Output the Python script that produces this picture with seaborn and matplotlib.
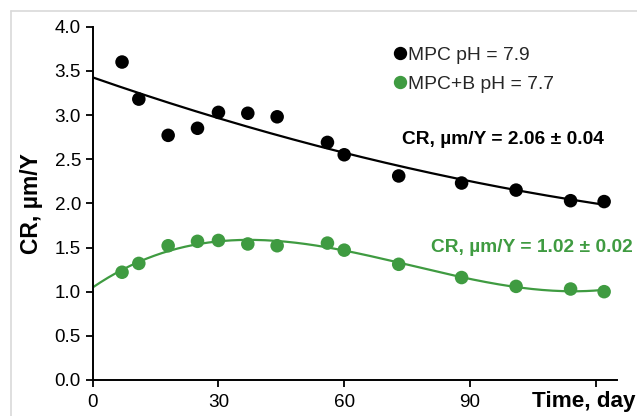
import numpy as np
import pandas as pd
import matplotlib
matplotlib.use("Agg")
import matplotlib.pyplot as plt
from matplotlib.lines import Line2D
import seaborn as sns

# ---- data ----
days = [7, 11, 18, 25, 30, 37, 44, 56, 60, 73, 88, 101, 114, 122]
cr_mpc = [3.60, 3.18, 2.77, 2.85, 3.03, 3.02, 2.98, 2.69, 2.55, 2.31, 2.23, 2.15, 2.03, 2.02]
cr_mpcb = [1.22, 1.32, 1.52, 1.57, 1.58, 1.54, 1.52, 1.55, 1.47, 1.31, 1.16, 1.06, 1.03, 1.00]
series_labels = ["MPC pH = 7.9", "MPC+B pH = 7.7"]
annot_texts = ["CR, \u00b5m/Y = 2.06 \u00b1 0.04", "CR, \u00b5m/Y = 1.02 \u00b1 0.02"]
x_ticks = [0, 30, 60, 90, 120]
x_ticklabels = ["0", "30", "60", "90", ""]
y_ticks = [0.0, 0.5, 1.0, 1.5, 2.0, 2.5, 3.0, 3.5, 4.0]

BLACK = "#000000"
GREEN = "#3f9b41"

sns.set_theme(style="white")
plt.rcParams["font.family"] = ["Liberation Sans", "DejaVu Sans"]

W, H = 637, 416
fig = plt.figure(figsize=(W / 100, H / 100), dpi=100)
ax_l, ax_r, ax_b, ax_t = 92.7, 616.7, 380.0, 26.7
ax = fig.add_axes([ax_l / W, 1 - ax_b / H, (ax_r - ax_l) / W, (ax_b - ax_t) / H])

df = pd.DataFrame({"day": days * 2,
                   "cr": cr_mpc + cr_mpcb,
                   "series": [series_labels[0]] * len(days) + [series_labels[1]] * len(days)})

# trend lines (polynomial fits of the data, extended back to day 0)
xfit = np.linspace(0, max(days), 200)
p_black = np.polyfit(days, cr_mpc, 2)
p_green = np.polyfit(days, cr_mpcb, 3)
fit_df = pd.DataFrame({"day": np.concatenate([xfit, xfit]),
                       "cr": np.concatenate([np.polyval(p_black, xfit), np.polyval(p_green, xfit)]),
                       "series": [series_labels[0]] * len(xfit) + [series_labels[1]] * len(xfit)})
palette = {series_labels[0]: BLACK, series_labels[1]: GREEN}

sns.lineplot(data=fit_df, x="day", y="cr", hue="series", palette=palette, ax=ax,
             linewidth=1.6, legend=False, sort=True)
sns.scatterplot(data=df, x="day", y="cr", hue="series", palette=palette, ax=ax,
                s=95, edgecolor="none", legend=False, zorder=3)

ax.set_xlim(0, 125)
ax.set_ylim(0, 4.0)
ax.set_xticks(x_ticks)
ax.set_xticklabels(x_ticklabels)
ax.set_yticks(y_ticks)
ax.set_yticklabels([f"{v:.1f}" for v in y_ticks])
ax.tick_params(axis="both", direction="out", length=5, width=1.3, colors="black",
               labelsize=13.6, bottom=True, left=True)
ax.tick_params(axis="x", pad=5)
ax.tick_params(axis="y", pad=3.5)
for s in ["top", "right"]:
    ax.spines[s].set_visible(False)
for s in ["left", "bottom"]:
    ax.spines[s].set_color("black")
    ax.spines[s].set_linewidth(1.4)

ax.set_ylabel("CR, \u00b5m/Y", fontsize=16.5, fontweight="bold", color="black", va="center")
ax.yaxis.set_label_coords((31.5 - ax_l) / (ax_r - ax_l), 0.5)
ax.set_xlabel("Time, day", fontsize=16.2, fontweight="bold", color="black", ha="right", va="center")
ax.xaxis.set_label_coords((635.5 - ax_l) / (ax_r - ax_l), (ax_b - 401.7) / (ax_b - ax_t))

# annotations
ax.text(73.7, 2.725, annot_texts[0], fontsize=13.8, fontweight="bold", color=BLACK,
        ha="left", va="center")
ax.text(80.7, 1.498, annot_texts[1], fontsize=13.8, fontweight="bold", color=GREEN,
        ha="left", va="center")

# legend
handles = [Line2D([], [], marker="o", linestyle="none", color=BLACK, markersize=8.6),
           Line2D([], [], marker="o", linestyle="none", color=GREEN, markersize=8.6)]
leg = ax.legend(handles, series_labels, loc="upper left",
                bbox_to_anchor=(395 / W, 1 - 46 / H), bbox_transform=fig.transFigure,
                frameon=False, fontsize=13.9, handlelength=0.55, handletextpad=0.12,
                labelspacing=0.62, borderpad=0, borderaxespad=0)

# light grey frame of the original chart area (cropped)
fig.add_artist(Line2D([11 / W, 11 / W], [0, 1 - 10.5 / H], transform=fig.transFigure,
                      color="#d9d9d9", linewidth=1.2))
fig.add_artist(Line2D([11 / W, 1], [1 - 10.5 / H, 1 - 10.5 / H], transform=fig.transFigure,
                      color="#d9d9d9", linewidth=1.2))

fig.savefig("out.png", dpi=100)
